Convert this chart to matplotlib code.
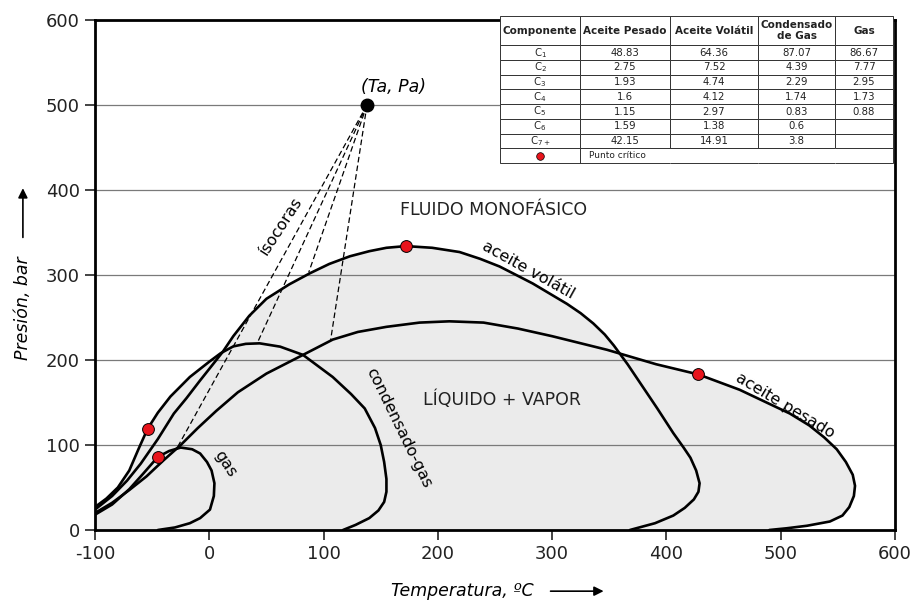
import numpy as np
import matplotlib.pyplot as plt

plt.rcParams['axes.unicode_minus'] = False

# Envolventes de fase (T en ºC, P en bar)
pesado_T = [-100, -85, -70, -55, -40, -25, -10, 6, 25, 50, 82, 108, 130, 155, 184, 210,
            240, 270, 300, 348, 391, 428, 464, 508, 525, 538, 549, 557, 563, 565, 564,
            560, 554, 543, 523, 505, 490]
pesado_P = [20, 32, 47, 63, 82, 100, 120, 140, 162, 184, 206, 224, 233, 239, 244, 245.5,
            244, 237, 228, 212, 195, 183, 165, 137, 123, 109, 95, 80, 65, 52, 40,
            27, 17, 10, 5, 2, 0]

volatil_T = [-100, -85, -72, -60, -45, -31, -20, -8, 5, 12, 21, 35, 50, 70, 88, 105, 123,
             140, 155, 172, 195, 219, 237, 254, 270, 283, 298, 313, 325, 336, 346, 354, 366,
             377, 392, 406, 415, 421, 426, 429, 428, 424, 416, 406, 390, 368]
volatil_P = [24, 40, 58, 78, 107, 137, 155, 176, 198, 210, 228, 252, 272, 289, 302, 313, 322,
             328, 332, 334, 332, 327, 319, 310, 299, 290, 278, 266, 255, 243, 230, 217, 195,
             173, 143, 114, 97, 85, 70, 55, 45, 36, 26, 17, 8, 0]

condensado_T = [-100, -90, -80, -70, -62, -54, -45, -34, -17, 0, 10, 21, 32, 44, 62, 82,
                108, 124, 136, 145, 150, 153, 155, 155, 153, 148, 140, 128, 117]
condensado_P = [27, 37, 50, 70, 95, 119, 138, 157, 180, 198, 208, 216, 219, 219.6, 215.7, 206,
                180, 160, 143, 120, 100, 80, 60, 45, 33, 23, 14, 6, 0]

gas_T = [-100, -85, -70, -58, -45, -35, -25, -15, -8, -2, 2, 4.5, 4, 0.6, -8, -17, -30, -45]
gas_P = [18, 30, 48, 66, 86, 93, 97, 95, 90, 80, 70, 55, 40, 24, 14, 8, 3, 0]

# Puntos criticos y punto (Ta, Pa)
criticos_T = [428, 172, -54, -45]
criticos_P = [183, 334, 119, 86]
Ta, Pa = 138, 500

# Isocoras: extremos inferiores
isocoras_T = [-28, 42, 87, 106]
isocoras_P = [97, 220, 303, 222]

# Tabla de composicion
componentes = ['C$_1$', 'C$_2$', 'C$_3$', 'C$_4$', 'C$_5$', 'C$_6$', 'C$_{7+}$']
aceite_pesado = [48.83, 2.75, 1.93, 1.6, 1.15, 1.59, 42.15]
aceite_volatil = [64.36, 7.52, 4.74, 4.12, 2.97, 1.38, 14.91]
condensado_gas = [87.07, 4.39, 2.29, 1.74, 0.83, 0.6, 3.8]
gas = [86.67, 7.77, 2.95, 1.73, 0.88, None, None]
encabezados = ['Componente', 'Aceite Pesado', 'Aceite Volátil', 'Condensado\nde Gas', 'Gas']

fig = plt.figure(figsize=(9.16, 6.02), dpi=100)
ax = fig.add_axes([0.1037, 0.1196, 0.8734, 0.8472])

gris = '#ebebeb'
curvas = [(pesado_T, pesado_P), (volatil_T, volatil_P),
          (condensado_T, condensado_P), (gas_T, gas_P)]
for T, P in curvas:
    ax.fill(T + [-100], P + [0], color=gris, lw=0, zorder=1)
for T, P in curvas:
    ax.plot(T, P, color='black', lw=1.9, zorder=3, solid_joinstyle='round',
            solid_capstyle='round')

# isocoras
for t, p in zip(isocoras_T, isocoras_P):
    ax.plot([Ta, t], [Pa, p], color='black', lw=0.9, ls=(0, (4.5, 2.5)), zorder=2.5)

ax.plot(criticos_T, criticos_P, 'o', color='#e8141c', mec='black', mew=0.7, ms=8.5, zorder=4)
ax.plot([Ta], [Pa], 'o', color='black', ms=9, zorder=4)

# grilla horizontal
for y in [100, 200, 300, 400, 500]:
    ax.axhline(y, color='#7a7a7a', lw=0.9, zorder=2)

ax.set_xlim(-100, 600)
ax.set_ylim(0, 600)
ax.set_xticks(range(-100, 601, 100))
ax.set_yticks(range(0, 601, 100))
ax.tick_params(labelsize=13, length=7, width=1.2, direction='out', pad=4, colors='#222222')
for s in ax.spines.values():
    s.set_linewidth(2)

# textos
ax.text(161, 521, '(Ta, Pa)', fontsize=12.5, style='italic', ha='center', va='center')
ax.text(249, 377, 'FLUIDO MONOFÁSICO', fontsize=12.5, ha='center', va='center', color='#222222')
ax.text(256, 153, 'LÍQUIDO + VAPOR', fontsize=12.5, ha='center', va='center', color='#222222')
ax.text(279, 306, 'aceite volátil', fontsize=11.5, rotation=-29, ha='center', va='center',
        rotation_mode='anchor')
ax.text(504, 146, 'aceite pesado', fontsize=11.5, rotation=-31, ha='center', va='center',
        rotation_mode='anchor')
ax.text(166, 120, 'condensado-gas', fontsize=11.5, rotation=-64, ha='center', va='center',
        rotation_mode='anchor')
ax.text(14, 78, 'gas', fontsize=11.5, rotation=-57, ha='center', va='center',
        rotation_mode='anchor')
ax.text(63, 358, 'ísocoras', fontsize=11.5, rotation=57, ha='center', va='center',
        rotation_mode='anchor')

# etiquetas de ejes con flechas
fig.text(0.5044, 0.018, 'Temperatura, ºC', fontsize=12.5, style='italic', ha='center',
         va='center')
ax.annotate('', xy=(0.662, 0.018), xytext=(0.598, 0.018), xycoords='figure fraction',
            arrowprops=dict(arrowstyle='-|>', color='black', lw=1.2, mutation_scale=14))
fig.text(0.025, 0.488, 'Presión, bar', fontsize=12.5, style='italic', rotation=90,
         ha='center', va='center')
ax.annotate('', xy=(0.025, 0.692), xytext=(0.025, 0.601), xycoords='figure fraction',
            arrowprops=dict(arrowstyle='-|>', color='black', lw=1.2, mutation_scale=14))

# tabla
filas = []
for i, c in enumerate(componentes):
    filas.append([c] + [('' if v[i] is None else str(v[i]))
                        for v in (aceite_pesado, aceite_volatil, condensado_gas, gas)])
filas.append(['', 'Punto crítico', '', '', ''])
anchos = [80, 90, 88, 77, 58]
x0 = (500 - 95) / 800
y0 = (530 - 163) / 510
w = (893 - 500) / 800
h = (163 - 16) / 510
tbl = ax.table(cellText=filas, colLabels=encabezados, cellLoc='center',
               colWidths=[a / sum(anchos) for a in anchos], bbox=[x0, y0, w, h])
tbl.auto_set_font_size(False)
tbl.set_fontsize(7.3)
tbl.set_zorder(5)
for (r, c), cell in tbl.get_celld().items():
    cell.set_height(0.2 if r == 0 else 0.1)
    cell.set_linewidth(0.7)
    cell.set_edgecolor('#333333')
    cell.get_text().set_color('#222222')
    if r == 0:
        cell.get_text().set_fontweight('bold')
        cell.get_text().set_fontsize(7.5)
n = len(filas)
tbl[n, 1].get_text().set_horizontalalignment('left')
tbl[n, 1].get_text().set_fontsize(6.5)
tbl[n, 1].visible_edges = 'BTL'
tbl[n, 2].visible_edges = 'BT'
tbl[n, 3].visible_edges = 'BT'
tbl[n, 4].visible_edges = 'BTR'
ax.plot([x0 + w * anchos[0] / sum(anchos) / 2], [y0 + h * 0.5 / 10], 'o', color='#e8141c',
        mec='black', mew=0.5, ms=5.5, transform=ax.transAxes, clip_on=False, zorder=6)

fig.savefig('out.png', dpi=100)
